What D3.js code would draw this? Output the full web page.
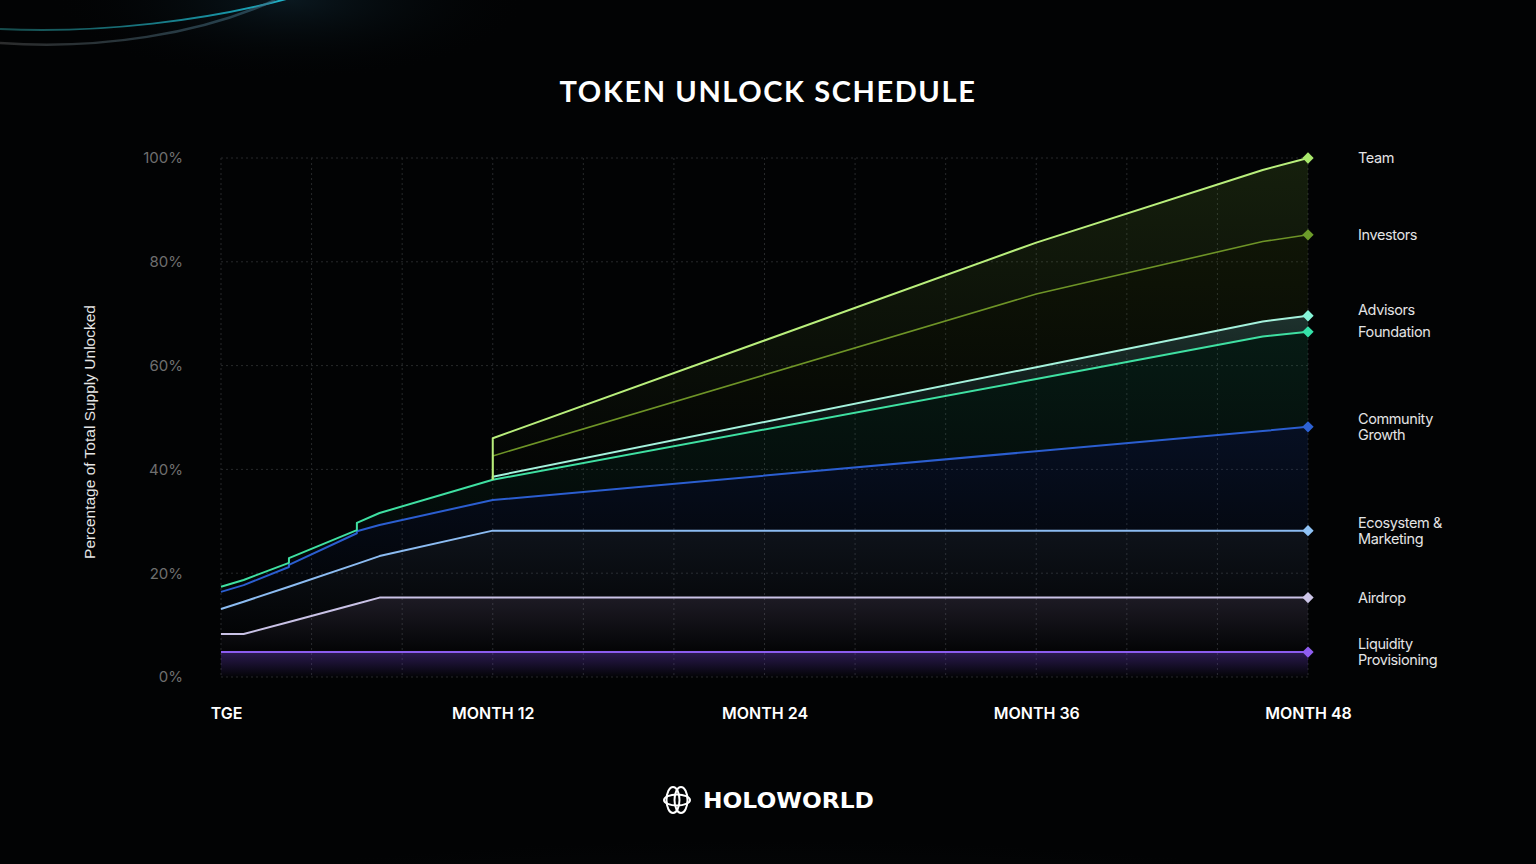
<!DOCTYPE html>
<html>
<head>
<meta charset="utf-8">
<script src="https://cdn.jsdelivr.net/npm/d3@7"></script>
<style>
  html, body { margin: 0; padding: 0; background: #020304; }
  svg { display: block; }
</style>
</head>
<body>
<svg id="chart" width="1536" height="864"></svg>
<script>
// ---------------- DATA ----------------
// Key months (duplicates mark vertical steps in the schedule)
const months = [0, 1, 3, 3, 6, 6, 7, 12, 12, 36, 46, 48];

// Cumulative percentage of total supply unlocked (stacked tops), bottom to top
const liquidityProvisioning = [4.8, 4.8, 4.8, 4.8, 4.8, 4.8, 4.8, 4.8, 4.8, 4.8, 4.8, 4.8];
const airdrop               = [8.3, 8.3, 10.6, 10.6, 14.1, 14.1, 15.3, 15.3, 15.3, 15.3, 15.3, 15.3];
const ecosystemMarketing    = [13.1, 14.5, 17.4, 17.4, 21.8, 21.8, 23.3, 28.2, 28.2, 28.2, 28.2, 28.2];
const communityGrowth       = [16.4, 17.7, 21.2, 21.6, 27.7, 28.1, 29.3, 34.1, 34.1, 43.5, 47.4, 48.2];
const foundation            = [17.4, 18.7, 22.0, 22.9, 28.3, 29.7, 31.6, 38.0, 38.0, 57.4, 65.6, 66.5];
const advisors              = [null, null, null, null, null, null, null, 38.0, 38.6, 59.7, 68.5, 69.6];
const investors             = [null, null, null, null, null, null, null, 38.0, 42.6, 73.8, 83.9, 85.2];
const team                  = [null, null, null, null, null, null, null, 38.0, 46.0, 83.7, 97.7, 100];

const seriesNames  = ["Liquidity Provisioning", "Airdrop", "Ecosystem & Marketing", "Community Growth",
                      "Foundation", "Advisors", "Investors", "Team"];
const seriesLabels = [["Liquidity", "Provisioning"], ["Airdrop"], ["Ecosystem &", "Marketing"], ["Community", "Growth"],
                      ["Foundation"], ["Advisors"], ["Investors"], ["Team"]];
const seriesValues = [liquidityProvisioning, airdrop, ecosystemMarketing, communityGrowth,
                      foundation, advisors, investors, team];
const lineColors   = ["#8b5cf0", "#c9c2e6", "#8cbcf2", "#2b5ed0", "#3fe0a2", "#a4f2dc", "#6e9427", "#b9ef7c"];
const markerColors = ["#8f5ef0", "#cdc6e8", "#8fc3f6", "#2d62d4", "#35e3aa", "#86f5d8", "#6c9c2a", "#a9e86c"];
const fillColors   = ["#7a48e6", "#8a7aa6", "#4a5f86", "#1e4cb8", "#1f9a6a", "#7fd8c0", "#5c7e14", "#7cb43a"];
const fillOpacity  = [0.34, 0.2, 0.17, 0.17, 0.16, 0.22, 0.15, 0.16];

const yTicks = [0, 20, 40, 60, 80, 100];
const xTickMonths = [0, 12, 24, 36, 48];
const xTickLabels = ["TGE", "MONTH 12", "MONTH 24", "MONTH 36", "MONTH 48"];
const gridMonths = [0, 4, 8, 12, 16, 20, 24, 28, 32, 36, 40, 44, 48];

const titleText = "TOKEN UNLOCK SCHEDULE";
const yAxisTitle = "Percentage of Total Supply Unlocked";
const brandText = "HOLOWORLD";

// ---------------- LAYOUT ----------------
const svg = d3.select("#chart");
const W = 1536, H = 864;
const x = d3.scaleLinear().domain([0, 48]).range([221, 1308]);
const y = d3.scaleLinear().domain([0, 100]).range([677, 158]);

const defs = svg.append("defs");

// background
const bg = defs.append("radialGradient").attr("id", "bgGlow")
  .attr("cx", "50%").attr("cy", "100%").attr("r", "60%");
bg.append("stop").attr("offset", "0%").attr("stop-color", "#15191b");
bg.append("stop").attr("offset", "100%").attr("stop-color", "#020304");
svg.append("rect").attr("width", W).attr("height", H).attr("fill", "#020304");
svg.append("ellipse").attr("cx", 768).attr("cy", 880).attr("rx", 900).attr("ry", 200)
  .attr("fill", "url(#bgGlow)").attr("opacity", 0.8);

const tl = defs.append("radialGradient").attr("id", "tlGlow")
  .attr("cx", "50%").attr("cy", "50%").attr("r", "50%");
tl.append("stop").attr("offset", "0%").attr("stop-color", "#0b1a22").attr("stop-opacity", 0.9);
tl.append("stop").attr("offset", "100%").attr("stop-color", "#020304").attr("stop-opacity", 0);
svg.append("ellipse").attr("cx", 290).attr("cy", 0).attr("rx", 240).attr("ry", 80).attr("fill", "url(#tlGlow)");

// decorative arcs at top-left
const arcGrad1 = defs.append("linearGradient").attr("id", "arc1").attr("x1", "0%").attr("x2", "100%");
arcGrad1.append("stop").attr("offset", "0%").attr("stop-color", "#1f6a6a").attr("stop-opacity", 0.7);
arcGrad1.append("stop").attr("offset", "80%").attr("stop-color", "#1aa4b8").attr("stop-opacity", 0.9);
arcGrad1.append("stop").attr("offset", "100%").attr("stop-color", "#22c8e0").attr("stop-opacity", 0.9);
const arcGrad2 = defs.append("linearGradient").attr("id", "arc2").attr("x1", "0%").attr("x2", "100%");
arcGrad2.append("stop").attr("offset", "0%").attr("stop-color", "#555").attr("stop-opacity", 0.5);
arcGrad2.append("stop").attr("offset", "100%").attr("stop-color", "#3a6a80").attr("stop-opacity", 0.6);
svg.append("path").attr("d", "M0,29 C100,34 210,20 290,-2")
  .attr("fill", "none").attr("stroke", "url(#arc1)").attr("stroke-width", 2);
svg.append("path").attr("d", "M0,43 C100,50 200,34 275,0")
  .attr("fill", "none").attr("stroke", "url(#arc2)").attr("stroke-width", 2.5);

// ---------------- TITLE ----------------
svg.append("text").attr("x", 768).attr("y", 102).attr("text-anchor", "middle")
  .attr("fill", "#ffffff").attr("font-family", "Lato, 'Open Sans', sans-serif")
  .attr("font-size", 29).attr("font-weight", 700).attr("letter-spacing", 1.6)
  .text(titleText);

// ---------------- GRID ----------------
const grid = svg.append("g").attr("stroke", "#27292b").attr("stroke-width", 1)
  .attr("stroke-dasharray", "2,3");
grid.selectAll("line.v").data(gridMonths).join("line").attr("class", "v")
  .attr("x1", d => x(d)).attr("x2", d => x(d)).attr("y1", y(100)).attr("y2", y(0));
grid.selectAll("line.h").data(yTicks).join("line").attr("class", "h")
  .attr("x1", x(0)).attr("x2", x(48)).attr("y1", d => y(d)).attr("y2", d => y(d));

// ---------------- AXES ----------------
const yAxis = d3.axisLeft(y).tickValues(yTicks).tickFormat(d => d + "%").tickSize(0).tickPadding(0);
const yg = svg.append("g").attr("transform", "translate(183,0)").call(yAxis);
yg.select(".domain").remove();
yg.selectAll("text").attr("fill", "#6f6f6f").attr("font-size", 15)
  .attr("font-family", "Inter, 'Liberation Sans', sans-serif");

const xAxis = d3.axisBottom(x).tickValues(xTickMonths)
  .tickFormat((d, i) => xTickLabels[i]).tickSize(0).tickPadding(0);
const xg = svg.append("g").attr("transform", "translate(0,708)").call(xAxis);
xg.select(".domain").remove();
xg.selectAll("text").attr("fill", "#ffffff").attr("font-size", 16).attr("font-weight", 600)
  .attr("font-family", "Inter, 'Liberation Sans', sans-serif")
  .attr("dx", d => d === 0 ? 5 : 0);

svg.append("text").attr("transform", "translate(95,432) rotate(-90)")
  .attr("text-anchor", "middle").attr("fill", "#e6e6e6").attr("font-size", 15.5)
  .attr("font-family", "'Liberation Sans', Inter, sans-serif")
  .text(yAxisTitle);

// ---------------- BANDS ----------------
const rows = months.map((m, i) => ({ m, v: seriesValues.map(s => s[i]) }));

seriesValues.forEach((s, k) => {
  const g = defs.append("linearGradient").attr("id", "fill" + k)
    .attr("x1", "0").attr("x2", "0").attr("y1", "0").attr("y2", "1");
  g.append("stop").attr("offset", "0%").attr("stop-color", fillColors[k]).attr("stop-opacity", fillOpacity[k]);
  g.append("stop").attr("offset", "100%").attr("stop-color", fillColors[k]).attr("stop-opacity", 0.01);
});

const bands = svg.append("g");
seriesValues.forEach((s, k) => {
  const area = d3.area()
    .defined(d => d.v[k] != null)
    .x(d => x(d.m))
    .y1(d => y(d.v[k]))
    .y0(d => y(k === 0 ? 0 : d.v[k - 1]));
  bands.append("path").datum(rows).attr("d", area).attr("fill", `url(#fill${k})`);
});

// ---------------- LINES ----------------
const lines = svg.append("g");
seriesValues.forEach((s, k) => {
  const line = d3.line().defined(d => d.v[k] != null).x(d => x(d.m)).y(d => y(d.v[k]));
  lines.append("path").datum(rows).attr("d", line).attr("fill", "none")
    .attr("stroke", lineColors[k]).attr("stroke-width", k === 6 ? 1.6 : 2)
    .attr("stroke-linejoin", "round");
});

// ---------------- MARKERS & LABELS ----------------
const last = months.length - 1;
// label anchor positions with simple collision avoidance (min 22px apart)
const labelY = seriesValues.map(s => y(s[last]));
for (let k = 1; k < labelY.length; k++) {
  if (labelY[k - 1] - labelY[k] < 22) labelY[k] = labelY[k - 1] - 22;
}
seriesValues.forEach((s, k) => {
  svg.append("path").attr("d", d3.symbol().type(d3.symbolSquare).size(64)())
    .attr("transform", `translate(${x(months[last])},${y(s[last])}) rotate(45)`)
    .attr("fill", markerColors[k]);
  const lbl = seriesLabels[k];
  const t = svg.append("text").attr("x", 1358).attr("fill", "#e4e4e4").attr("font-size", 14.5)
    .attr("font-family", "Inter, 'Liberation Sans', sans-serif").attr("letter-spacing", -0.4);
  const y0 = labelY[k] - (lbl.length - 1) * 8 + 5;
  lbl.forEach((l, j) => t.append("tspan").attr("x", 1358).attr("y", y0 + j * 16).text(l));
});

// ---------------- BRAND ----------------
const logo = svg.append("g").attr("transform", "translate(677,800)")
  .attr("fill", "none").attr("stroke", "#ffffff").attr("stroke-width", 2);
logo.append("ellipse").attr("cx", -4).attr("cy", 0).attr("rx", 6.5).attr("ry", 13);
logo.append("ellipse").attr("cx", 4).attr("cy", 0).attr("rx", 6.5).attr("ry", 13);
logo.append("ellipse").attr("cx", 0).attr("cy", 0).attr("rx", 13).attr("ry", 5.5);

svg.append("text").attr("x", 703).attr("y", 808).attr("fill", "#ffffff")
  .attr("font-family", "'DejaVu Sans', sans-serif").attr("font-weight", 700).attr("font-size", 21)
  .attr("textLength", 171).attr("lengthAdjust", "spacingAndGlyphs")
  .text(brandText);
</script>
</body>
</html>
